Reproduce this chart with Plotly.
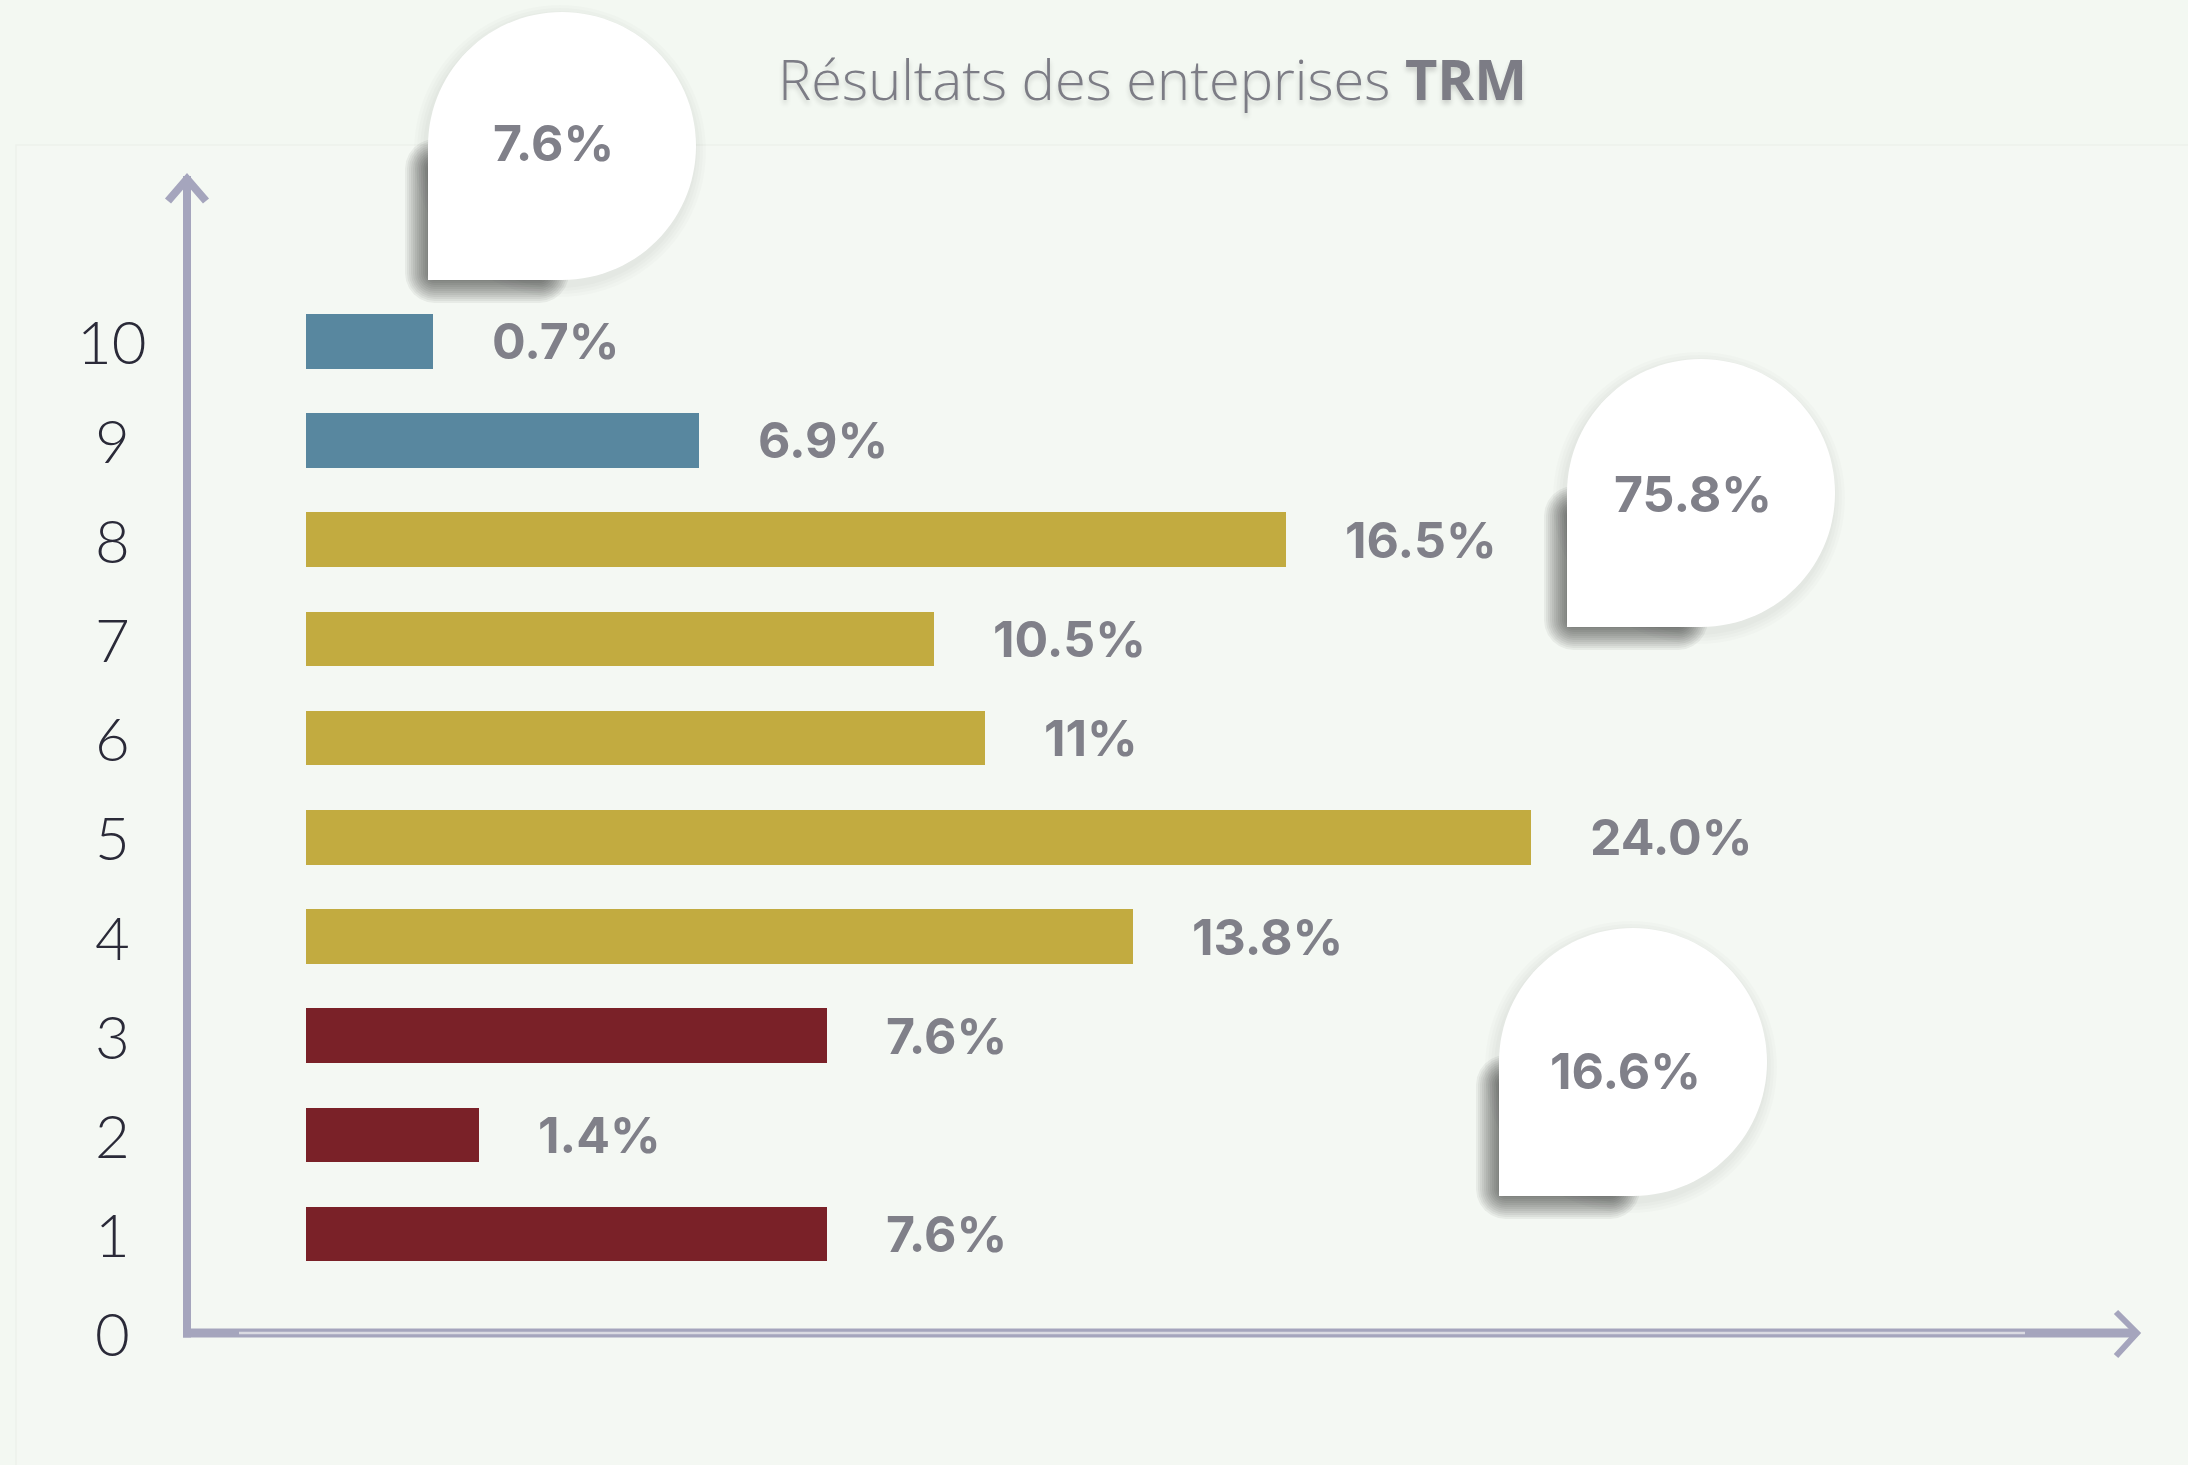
import math
import plotly.graph_objects as go

W, H = 2188, 1465

# ---------------- data ----------------
title_main = "Résultats des enteprises "
title_bold = "TRM"
categories = [1, 2, 3, 4, 5, 6, 7, 8, 9, 10]
percent_values = [7.6, 1.4, 7.6, 13.8, 24.0, 11.0, 10.5, 16.5, 6.9, 0.7]
label_texts = ["7.6%", "1.4%", "7.6%", "13.8%", "24.0%", "11%", "10.5%", "16.5%", "6.9%", "0.7%"]
bar_lengths = [10.2, 3.4, 10.2, 16.2, 24.0, 13.3, 12.3, 19.2, 7.7, 2.5]  # as drawn
groups = ["bas", "bas", "bas", "moyen", "moyen", "moyen", "moyen", "moyen", "haut", "haut"]
tick_values = [0, 1, 2, 3, 4, 5, 6, 7, 8, 9, 10]
tick_labels = ["0", "1", "2", "3", "4", "5", "6", "7", "8", "9", "10"]

# ---------------- style ----------------
group_colors = {"bas": "#7a2128", "moyen": "#c2ab40", "haut": "#58879f"}
BG = "#f3f8f2"
AXIS = "#a5a5bd"
LABEL_COLOR = "#808089"
LABEL_FONT = "Inter"

# bubble placement (pixel centre, radius, text position) per group
bubble_style = {
    "haut": dict(cx=562, cy=146, r=134, tx=553, ty=143),
    "moyen": dict(cx=1701, cy=493, r=134, tx=1693, ty=494),
    "bas": dict(cx=1633, cy=1062, r=134, tx=1625, ty=1071),
}

def px(x):
    return x / W

def py(y):
    return 1 - y / H

def to_path(pts):
    return "M " + " L ".join(f"{px(a):.5f},{py(b):.5f}" for a, b in pts) + " Z"

def bubble_path(cx, cy, r, d=0.0):
    R = r + d
    pts = []
    n = 90
    for i in range(n + 1):
        th = math.radians(180 - 270 * i / n)
        pts.append((cx + R * math.cos(th), cy - R * math.sin(th)))
    pts.append((cx - R, cy + R))
    pts.append((cx - R, cy))
    return to_path(pts)

def circle_path(cx, cy, R):
    pts = []
    n = 96
    for i in range(n):
        th = 2 * math.pi * i / n
        pts.append((cx + R * math.cos(th), cy - R * math.sin(th)))
    return to_path(pts)

def rounded_rect_path(x0, y0, x1, y1, rad):
    rad = max(0.5, min(rad, (x1 - x0) / 2, (y1 - y0) / 2))
    pts = []
    corners = [(x1 - rad, y0 + rad, 90), (x0 + rad, y0 + rad, 180),
               (x0 + rad, y1 - rad, 270), (x1 - rad, y1 - rad, 360)]
    for (ccx, ccy, start) in corners:
        for k in range(7):
            th = math.radians(start - 90 + 90 * k / 6)
            pts.append((ccx + rad * math.cos(th), ccy - rad * math.sin(th)))
    return to_path(pts)

shapes = []
# panel
shapes.append(dict(type="rect", xref="paper", yref="paper", x0=px(16), x1=1.01,
                   y0=-0.01, y1=py(145), fillcolor="#f4f8f3",
                   line=dict(color="#edf1eb", width=1.5), layer="below"))

# axes (decoration)
shapes.append(dict(type="line", xref="paper", yref="paper", x0=px(187), x1=px(187),
                   y0=py(176), y1=py(1337.5), line=dict(color=AXIS, width=8), layer="below"))
shapes.append(dict(type="line", xref="paper", yref="paper", x0=px(183), x1=px(2134),
                   y0=py(1333), y1=py(1333), line=dict(color=AXIS, width=9), layer="below"))
shapes.append(dict(type="line", xref="paper", yref="paper", x0=px(239), x1=px(2025),
                   y0=py(1333), y1=py(1333), line=dict(color="#dadae2", width=2.5), layer="below"))
shapes.append(dict(type="path", xref="paper", yref="paper",
                   path=f"M {px(168)},{py(201)} L {px(187)},{py(179)} L {px(206)},{py(201)}",
                   line=dict(color=AXIS, width=8), layer="below"))
shapes.append(dict(type="path", xref="paper", yref="paper",
                   path=f"M {px(2116)},{py(1312)} L {px(2137)},{py(1333)} L {px(2116)},{py(1356)}",
                   line=dict(color=AXIS, width=6), layer="below"))

# bubbles with soft shadow
for g, b in bubble_style.items():
    cx, cy, r = b["cx"], b["cy"], b["r"]
    # faint halo of the round part
    for d in [12, 9, 6, 3]:
        shapes.append(dict(type="path", xref="paper", yref="paper",
                           path=circle_path(cx - 2, cy + 5, r + d),
                           fillcolor="rgba(0,0,0,0.016)", line=dict(width=0), layer="above"))
    # blurred shadow of the square corner
    ox, oy, blur = -8, 8, 15
    sx0, sy0, sx1, sy1 = cx - r + ox, cy + oy, cx + ox, cy + r + oy
    for d in range(-blur, blur + 1, 2):
        shapes.append(dict(type="path", xref="paper", yref="paper",
                           path=rounded_rect_path(sx0 - d, sy0 - d, sx1 + d, sy1 + d, blur + d),
                           fillcolor="rgba(20,20,20,0.055)", line=dict(width=0), layer="above"))
    shapes.append(dict(type="path", xref="paper", yref="paper",
                       path=bubble_path(cx, cy, r),
                       fillcolor="#ffffff", line=dict(width=0), layer="above"))

# ---------------- figure ----------------
fig = go.Figure()
fig.add_trace(go.Bar(
    x=bar_lengths, y=categories, orientation="h", width=0.55,
    marker=dict(color=[group_colors[g] for g in groups], line=dict(width=0)),
    hoverinfo="skip", showlegend=False,
))

annotations = []
for c, L, t in zip(categories, bar_lengths, label_texts):
    annotations.append(dict(x=L, y=c, xref="x", yref="y", text=t, showarrow=False,
                            xanchor="left", yanchor="middle", xshift=57,
                            font=dict(family=LABEL_FONT, size=50, color=LABEL_COLOR, weight=700)))

for tv, tl in zip(tick_values, tick_labels):
    annotations.append(dict(x=px(112), y=tv, xref="paper", yref="y", text=tl, showarrow=False,
                            xanchor="center", yanchor="middle",
                            font=dict(family="Lato", size=60, color="#2a2a38", weight=300)))

# group totals in bubbles
for g, b in bubble_style.items():
    total = sum(v for v, gg in zip(percent_values, groups) if gg == g)
    annotations.append(dict(x=px(b["tx"]), y=py(b["ty"]), xref="paper", yref="paper",
                            text=f"{total:.1f}%", showarrow=False,
                            xanchor="center", yanchor="middle",
                            font=dict(family=LABEL_FONT, size=50, color=LABEL_COLOR, weight=700)))

annotations.append(dict(x=px(1152), y=py(78), xref="paper", yref="paper",
                        text=f"{title_main}<b>{title_bold}</b>", showarrow=False,
                        xanchor="center", yanchor="middle",
                        font=dict(family="Open Sans", size=56, color="#7c7c85", weight=300,
                                  shadow="0px 4px 5px rgba(0,0,0,0.16)")))

fig.update_layout(
    width=W, height=H, autosize=False,
    margin=dict(l=0, r=0, t=0, b=0, pad=0),
    paper_bgcolor=BG, plot_bgcolor="rgba(0,0,0,0)",
    xaxis=dict(range=[-305.6 / 51.07, (W - 305.6) / 51.07], visible=False, fixedrange=True),
    yaxis=dict(range=[-1.327, 13.44], visible=False, fixedrange=True),
    shapes=shapes, annotations=annotations, bargap=0,
)

fig.write_html("out.html", config={"displayModeBar": False},
               post_script="document.body.style.margin='0';document.body.style.overflow='hidden';")
